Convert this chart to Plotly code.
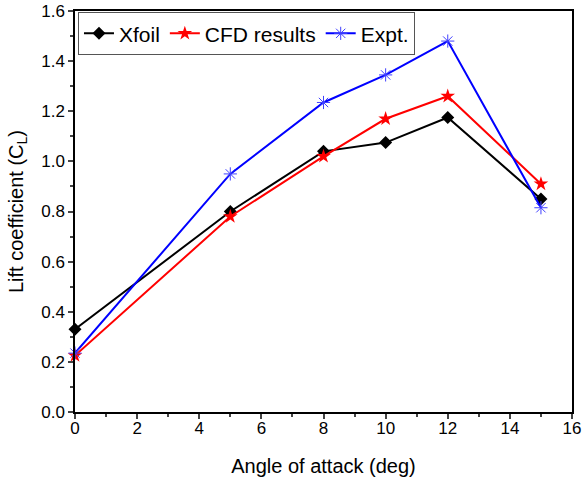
import plotly.graph_objects as go

angle = [0, 5, 8, 10, 12, 15]
xfoil = [0.33, 0.80, 1.04, 1.075, 1.175, 0.85]
cfd = [0.225, 0.78, 1.02, 1.17, 1.26, 0.91]
expt = [0.235, 0.95, 1.235, 1.345, 1.48, 0.815]

fig = go.Figure()
fig.add_trace(go.Scatter(x=angle, y=xfoil, name="Xfoil", mode="lines+markers",
                         line=dict(color="black", width=2),
                         marker=dict(symbol="diamond", size=10, color="black"),
                         cliponaxis=False))
fig.add_trace(go.Scatter(x=angle, y=cfd, name="CFD results", mode="lines+markers",
                         line=dict(color="red", width=2),
                         marker=dict(symbol="star", size=11, color="red"),
                         cliponaxis=False))
fig.add_trace(go.Scatter(x=angle, y=expt, name="Expt.", mode="lines+markers",
                         line=dict(color="blue", width=2),
                         marker=dict(symbol="asterisk-open", size=11, color="#4040ff",
                                     line=dict(color="#4040ff", width=1)),
                         cliponaxis=False))

fig.update_layout(
    width=582, height=481,
    margin=dict(l=75, r=10, t=11, b=69, autoexpand=False),
    paper_bgcolor="white", plot_bgcolor="white",
    font=dict(family="Liberation Sans, Arial, sans-serif", size=17, color="black"),
    showlegend=True,
    legend=dict(orientation="h", x=0.006, y=0.997, xanchor="left", yanchor="top",
                bordercolor="#555555", borderwidth=1, bgcolor="white",
                font=dict(size=21), tracegroupgap=0),
    xaxis=dict(range=[0, 16], dtick=2, ticks="outside", ticklen=5, tickwidth=1.5,
               minor=dict(dtick=1, ticks="outside", ticklen=3, tickwidth=1.5),
               showline=True, linecolor="black", linewidth=1.5, mirror=True,
               showgrid=False, zeroline=False, automargin=False,
               ticklabelstandoff=-5,
               title=dict(text="Angle of attack (deg)", font=dict(size=20), standoff=22),
               tickfont=dict(size=17)),
    yaxis=dict(range=[0, 1.6], dtick=0.2, tickformat=".1f", ticks="outside",
               ticklen=5, tickwidth=1.5,
               minor=dict(dtick=0.1, ticks="outside", ticklen=3, tickwidth=1.5),
               showline=True, linecolor="black", linewidth=1.5, mirror=True,
               showgrid=False, zeroline=False, automargin=False,
               title=dict(text="Lift coefficient (C<sub>L</sub>)", font=dict(size=20), standoff=12),
               tickfont=dict(size=17)),
)

fig.write_html("out.html")
